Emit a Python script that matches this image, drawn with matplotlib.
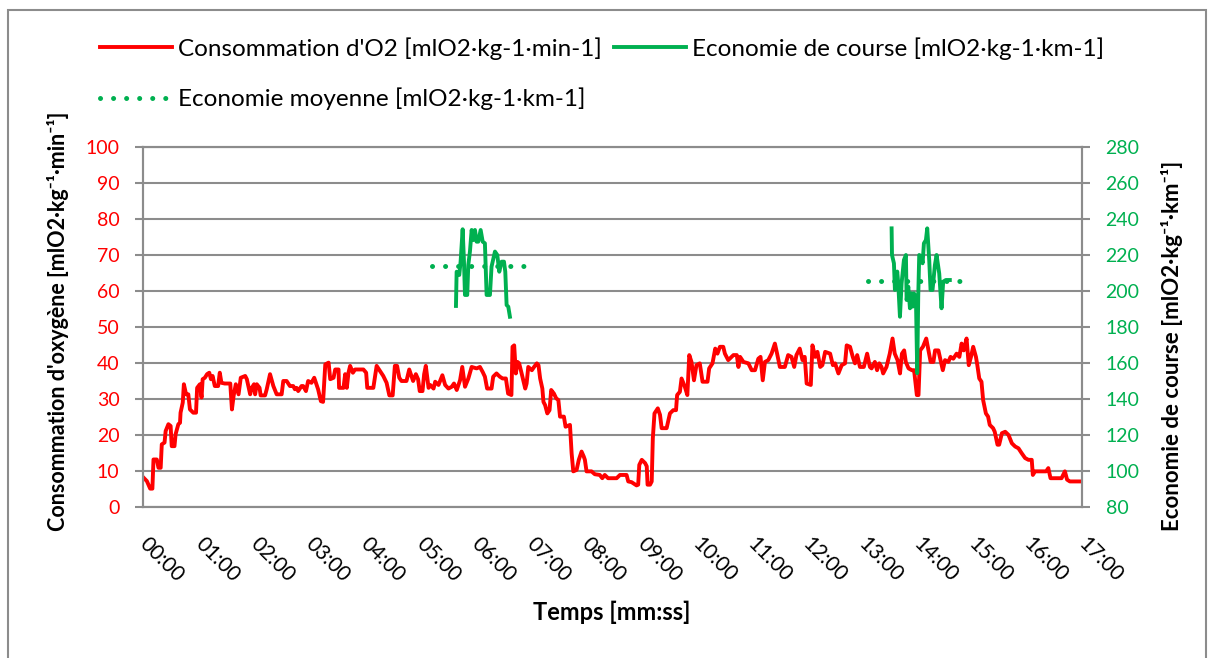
import numpy as np
import matplotlib
matplotlib.use("Agg")
import matplotlib.pyplot as plt
from matplotlib.patches import Rectangle

plt.rcParams['font.family'] = ['Lato', 'DejaVu Sans']

# time in minutes, O2 consumption [mlO2/kg/min]
t_vo2 = [0.00, 0.07, 0.13, 0.17, 0.19, 0.25, 0.28, 0.32, 0.34, 0.39, 0.41, 0.46, 0.50, 0.52, 0.57,
         0.59, 0.64, 0.67, 0.68, 0.72, 0.74, 0.78, 0.82, 0.85, 0.91, 0.96, 0.98, 1.03, 1.06, 1.08,
         1.12, 1.16, 1.20, 1.23, 1.26, 1.30, 1.36, 1.39, 1.42, 1.48, 1.58, 1.61, 1.64, 1.68, 1.73,
         1.77, 1.85, 1.88, 1.94, 1.97, 2.01, 2.03, 2.06, 2.11, 2.13, 2.21, 2.24, 2.30, 2.36, 2.42,
         2.51, 2.54, 2.60, 2.66, 2.72, 2.75, 2.78, 2.81, 2.87, 2.90, 2.95, 2.99, 3.05, 3.10, 3.13,
         3.17, 3.22, 3.26, 3.30, 3.36, 3.39, 3.45, 3.48, 3.54, 3.55, 3.63, 3.66, 3.69, 3.72, 3.75,
         3.80, 3.84, 3.99, 4.04, 4.06, 4.17, 4.23, 4.29, 4.35, 4.41, 4.46, 4.52, 4.56, 4.60, 4.64,
         4.68, 4.77, 4.82, 4.86, 4.89, 4.94, 4.98, 5.01, 5.06, 5.09, 5.12, 5.17,
         5.20, 5.26, 5.29, 5.35, 5.42, 5.47, 5.53, 5.59, 5.63, 5.68, 5.74, 5.78, 5.83, 5.89, 5.95,
         6.04, 6.10, 6.15, 6.19, 6.23, 6.31, 6.34, 6.40, 6.46, 6.51, 6.57, 6.61, 6.67, 6.69, 6.72,
         6.75, 6.78, 6.81, 6.855, 6.92, 6.945, 6.975, 7.04, 7.08, 7.13, 7.16, 7.19, 7.23, 7.25, 7.28,
         7.32, 7.36, 7.39, 7.44, 7.48, 7.52, 7.55, 7.62, 7.65, 7.73, 7.76, 7.79, 7.85, 7.89, 7.94,
         7.98, 8.00, 8.03, 8.12, 8.18, 8.27, 8.315, 8.36, 8.42, 8.575, 8.635, 8.755, 8.785, 8.845, 8.875,
         8.935, 8.965, 8.985, 9.03, 9.09, 9.12, 9.135, 9.18, 9.21, 9.23, 9.26, 9.32, 9.36, 9.39, 9.48,
         9.54, 9.60, 9.65, 9.67, 9.72, 9.75, 9.81, 9.855, 9.89, 9.93, 9.975, 10.02, 10.08, 10.13, 10.22,
         10.25, 10.31, 10.36, 10.40, 10.445, 10.505, 10.535, 10.595, 10.69, 10.75, 10.78,
         10.81, 10.87, 10.96, 11.02, 11.08, 11.14, 11.18, 11.22, 11.26, 11.32, 11.38, 11.44, 11.48, 11.53, 11.62,
         11.68, 11.74, 11.79, 11.83, 11.89, 11.94, 11.98, 12.015, 12.09, 12.12, 12.17, 12.21, 12.26, 12.30, 12.35,
         12.44, 12.49, 12.53, 12.59, 12.65, 12.71, 12.74, 12.80, 12.85, 12.89, 12.93, 12.98, 13.05, 13.11, 13.16,
         13.19, 13.25, 13.29, 13.33, 13.37, 13.40, 13.46, 13.52, 13.57, 13.61, 13.66, 13.705, 13.74, 13.78, 13.81,
         13.86, 13.92, 13.96, 14.01, 14.04, 14.07, 14.12, 14.18, 14.22, 14.26, 14.31, 14.34, 14.40, 14.44, 14.48,
         14.52, 14.58, 14.62, 14.67, 14.73, 14.78, 14.82, 14.86, 14.91, 14.95, 14.99, 15.03, 15.08, 15.105, 15.14,
         15.18, 15.21, 15.26, 15.30, 15.33, 15.39, 15.42, 15.47, 15.50, 15.55, 15.61, 15.67, 15.73, 15.79, 15.85,
         15.91, 15.97, 16.03, 16.09, 16.11, 16.15, 16.24, 16.35, 16.39, 16.43, 16.54, 16.63, 16.69, 16.73, 16.78,
         17.00]
vo2 = [8.3, 7.2, 5.1, 5.1, 13.2, 13.2, 10.9, 10.9, 17.4, 17.9, 21.1, 23.0, 22.5, 16.9, 16.9,
       20.2, 23.0, 23.4, 26.2, 29.0, 34.1, 31.3, 31.3, 27.1, 26.2, 26.2, 33.1, 34.1, 30.4, 35.5,
       35.9, 36.9, 37.3, 35.5, 36.4, 33.6, 33.6, 37.3, 34.5, 34.3, 34.3, 27.1, 30.8, 34.1, 31.3,
       35.9, 36.4, 35.5, 31.3, 33.1, 34.1, 31.3, 34.1, 33.1, 31.0, 31.0, 32.7, 36.9, 33.6, 31.3,
       31.3, 35.0, 35.0, 33.6, 33.6, 32.7, 33.1, 32.2, 33.6, 33.6, 32.2, 35.0, 34.5, 35.9, 34.5,
       32.7, 29.4, 29.2, 39.6, 40.1, 35.5, 35.9, 38.2, 38.2, 33.1, 33.1, 36.9, 33.1, 37.3, 39.2,
       37.3, 38.2, 38.2, 37.3, 33.1, 33.1, 39.2, 37.8, 36.4, 34.5, 31.0, 31.0, 39.2, 39.2, 35.9,
       35.0, 35.0, 38.2, 36.4, 35.0, 36.9, 35.5, 32.2, 32.2, 36.9, 39.2, 33.1,
       33.9, 32.9, 34.8, 33.9, 36.6, 33.9, 32.9, 33.4, 34.3, 32.5, 35.2, 38.9, 33.4, 35.7, 38.9,
       38.5, 38.9, 37.5, 36.2, 32.9, 32.9, 36.2, 37.1, 36.2, 35.7, 35.7, 31.5, 31.1, 44.5, 44.9,
       37.1, 40.3, 39.9, 37.1, 32.9, 34.3, 38.9, 38.0, 38.9, 39.9, 39.4, 35.7, 32.9, 29.2, 28.3,
       26.0, 26.9, 32.5, 31.5, 30.2, 29.7, 25.1, 25.1, 22.3, 22.8, 14.9, 9.9, 10.3, 13.1, 15.4,
       14.0, 13.1, 9.9, 9.9, 9.1, 8.9, 8.0, 8.9, 8.0, 8.0, 8.9, 8.9, 7.1, 6.9, 6.6,
       6.0, 6.2, 11.7, 13.1, 12.2, 11.3, 6.2, 6.2, 7.1, 19.1, 26.0, 27.4, 25.6, 21.9, 21.9,
       26.0, 26.9, 26.9, 31.1, 32.0, 35.7, 33.4, 31.1, 42.2, 40.3, 35.2, 39.4, 39.9, 34.8, 34.8,
       38.5, 39.9, 44.0, 42.6, 44.5, 44.5, 42.6, 40.8, 42.2, 42.2, 38.9,
       41.7, 40.3, 39.9, 38.0, 38.0, 41.2, 41.7, 35.2, 40.3, 40.8, 42.6, 45.4, 42.6, 38.9, 38.9,
       42.2, 41.7, 38.9, 42.2, 44.0, 40.8, 41.7, 34.3, 33.9, 44.9, 41.7, 43.1, 38.9, 39.4, 43.1,
       42.6, 39.4, 39.9, 37.1, 39.4, 39.9, 44.9, 44.5, 41.7, 39.9, 42.2, 38.9, 38.9, 42.6, 38.9,
       38.5, 40.3, 38.0, 39.9, 38.9, 37.1, 38.9, 42.6, 46.8, 42.6, 40.8, 37.1, 42.6, 43.5, 40.3,
       38.5, 38.0, 38.0, 31.1, 31.1, 43.5, 44.5, 46.8, 43.5, 40.3, 40.3, 43.5, 43.5, 40.8, 38.0,
       40.8, 40.3, 41.7, 41.2, 42.6, 41.7, 45.4, 43.5, 46.8, 39.4, 41.7, 44.5, 41.7, 39.4, 35.7,
       34.8, 29.7, 26.0, 25.1, 22.8, 21.9, 20.9, 17.3, 17.3, 20.5, 20.9, 20.0, 17.7, 16.8, 16.3,
       14.9, 13.6, 13.1, 13.1, 8.9, 9.9, 9.9, 9.9, 10.8, 8.0, 8.0, 8.0, 9.9, 7.6, 7.1,
       7.1]

# running economy [mlO2/kg/km], two stages
t_eco1 = [5.666, 5.678, 5.726, 5.75, 5.787, 5.81, 5.829, 5.87, 5.889, 5.919, 5.95, 5.98, 6.01, 6.04, 6.07,
          6.113, 6.15, 6.19, 6.221, 6.281, 6.31, 6.372, 6.414, 6.45, 6.493, 6.535, 6.559, 6.583, 6.613, 6.643]
eco1 = [191.7, 210.7, 208.9, 216.3, 234.3, 217.2, 197.8, 197.8, 214.4, 221.9, 233.9, 228.3, 233.9, 227.4, 227.4,
        233.9, 227.4, 226.5, 197.8, 197.8, 213.5, 221.9, 220.0, 210.7, 216.3, 216.3, 210.7, 192.2, 191.3, 185.7]
t_eco2 = [13.553, 13.56, 13.595, 13.613, 13.655, 13.673, 13.704, 13.734, 13.776, 13.812, 13.825, 13.855, 13.885,
          13.915, 13.933, 13.957, 13.993, 14.017, 14.035, 14.053, 14.096, 14.114, 14.138, 14.174, 14.198, 14.234,
          14.258, 14.294, 14.337, 14.367, 14.415, 14.457, 14.487, 14.535, 14.607]
eco2 = [234.8, 220.0, 215.4, 200.6, 210.8, 204.3, 185.7, 204.3, 217.2, 220.0, 195.0, 202.4, 190.4,
        198.7, 191.3, 198.7, 196.8, 154.3, 196.8, 220.0, 219.1, 215.4, 226.5, 228.3, 234.8, 217.2,
        200.6, 200.6, 214.4, 220.0, 209.8, 190.4, 205.2, 206.1, 206.1]

# mean economy per stage
t_mean1 = [5.24, 6.92]
mean1 = [214.0, 214.0]
t_mean2 = [13.13, 14.88]
mean2 = [205.8, 205.8]

minutes = list(range(0, 18))
tick_labels = [f"{m:02d}:00" for m in minutes]

RED = '#FF0000'
GREEN = '#00B050'
GRAY = '#8C8C8C'

W, H = 1214, 658
fig = plt.figure(figsize=(W / 100, H / 100), dpi=100)
ax = fig.add_axes([143 / W, 1 - 507 / H, (1082 - 143) / W, (507 - 147) / H])
ax2 = ax.twinx()

l_red, = ax.plot(t_vo2, vo2, color=RED, lw=2.8, solid_joinstyle='round')
l_green, = ax2.plot(t_eco1, eco1, color=GREEN, lw=2.8, solid_joinstyle='round')
ax2.plot(t_eco2, eco2, color=GREEN, lw=2.8, solid_joinstyle='round')
l_mean, = ax2.plot(t_mean1, mean1, color=GREEN, lw=3.6, linestyle=(0, (0.01, 2.6)),
                   dash_capstyle='round')
ax2.plot(t_mean2, mean2, color=GREEN, lw=3.6, linestyle=(0, (0.01, 2.6)), dash_capstyle='round')

ax.set_xlim(0, 17)
ax.set_ylim(0, 100)
ax2.set_ylim(80, 280)
ax.set_yticks(np.arange(0, 101, 10))
ax2.set_yticks(np.arange(80, 281, 20))
ax.set_xticks(minutes)
ax.set_xticklabels(tick_labels, rotation=-45, ha='left', va='center', rotation_mode='anchor')

ax.yaxis.grid(True, color=GRAY, lw=1.5)
ax.set_axisbelow(True)
for a in (ax, ax2):
    for s in a.spines.values():
        s.set_color(GRAY)
        s.set_linewidth(1.5)
ax.tick_params(axis='y', labelcolor=RED, color=GRAY, labelsize=14, length=6, width=1.5, pad=11)
ax2.tick_params(axis='y', labelcolor=GREEN, color=GRAY, labelsize=14, length=6, width=1.5, pad=11)
ax.tick_params(axis='x', length=0, labelsize=15, pad=24, labelcolor='black')

fig.text(58 / W, 1 - 321 / H, "Consommation d'oxygène [mlO2·kg⁻¹·min⁻¹]", rotation=90,
         ha='center', va='center', fontsize=15.5, fontweight='bold')
fig.text(1172 / W, 1 - 346 / H, "Economie de course [mlO2·kg⁻¹·km⁻¹]", rotation=90,
         ha='center', va='center', fontsize=16, fontweight='bold')
fig.text(612 / W, 1 - 612 / H, "Temps [mm:ss]", ha='center', va='center',
         fontsize=17, fontweight='bold')

fig.legend([l_red, l_mean, l_green],
           ["Consommation d'O2 [mlO2·kg-1·min-1]", "Economie moyenne [mlO2·kg-1·km-1]",
            "Economie de course [mlO2·kg-1·km-1]"],
           ncol=2, loc='upper left', bbox_to_anchor=(100 / W, 1 - 37 / H), frameon=False,
           fontsize=17.5, handlelength=2.95, handletextpad=0.25, columnspacing=0.5,
           borderpad=0, borderaxespad=0, labelspacing=1.15)

fig.patches.append(Rectangle((8 / W, -0.05), (1206 - 8) / W, 1.05 - 10 / H,
                             transform=fig.transFigure, fill=False, edgecolor=GRAY, lw=1.5))

fig.savefig('out.png', dpi=100)
